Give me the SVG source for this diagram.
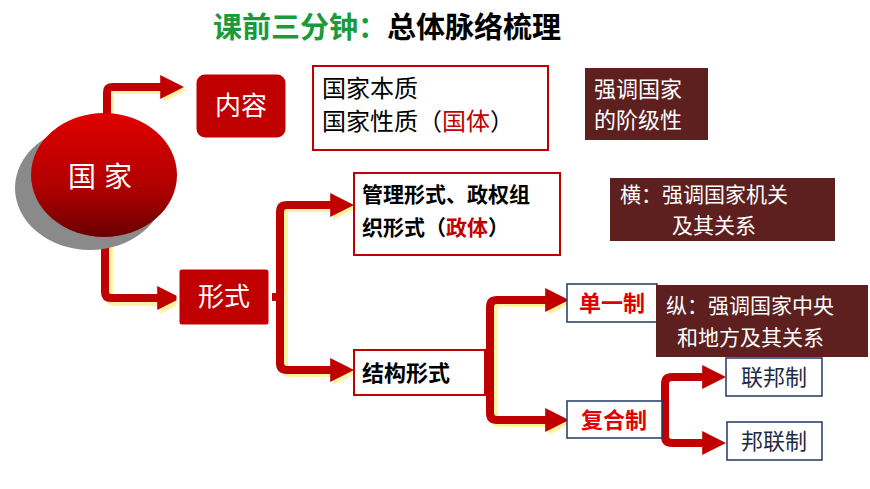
<svg xmlns="http://www.w3.org/2000/svg" width="870" height="489" viewBox="0 0 870 489">
<defs>
<linearGradient id="g" x1="0" y1="0" x2="0" y2="1"><stop offset="0" stop-color="#e00000"/><stop offset="0.6" stop-color="#b00000"/><stop offset="1" stop-color="#6a0000"/></linearGradient>
<marker id="ah" viewBox="0 0 10 10" refX="2" refY="5" markerWidth="3" markerHeight="3.4" orient="auto" markerUnits="strokeWidth"><path d="M0,0 L10,5 L0,10 z" fill="#c00000"/></marker>
<marker id="ahs" viewBox="0 0 10 10" refX="2" refY="5" markerWidth="3" markerHeight="3.4" orient="auto" markerUnits="strokeWidth"><path d="M0,0 L10,5 L0,10 z" fill="#fff3a0"/></marker>
</defs>
<style>
.t{font-family:"Noto Sans CJK SC","Liberation Sans",sans-serif}
.c{fill:none;stroke:#c00000;stroke-width:8;stroke-linejoin:round}
.cs{fill:none;stroke:#fff3a0;stroke-width:8;stroke-linejoin:round}
.rb{fill:#c00000;stroke:#fff;stroke-width:3}
.br{fill:#5e1f1f}
.wb{fill:#fff;stroke:#c00000;stroke-width:2}
.bb{fill:#fff;stroke:#1f3864;stroke-width:1.5}
</style>
<rect width="870" height="489" fill="#fff"/>
<text class="t" x="213" y="38" font-size="29" font-weight="bold" fill="#1a9a3a">课前三分钟：<tspan fill="#000">总体脉络梳理</tspan></text>
<g id="connectors">
<path class="cs" d="M110,122 V93 Q110,90 114,90 H168" marker-end="url(#ahs)"/>
<path class="c" d="M107,120 V92 Q107,87 113,87 H165" marker-end="url(#ah)"/>
<path class="cs" d="M109,240 V296 Q109,302 115,302 H165" marker-end="url(#ahs)"/>
<path class="c" d="M105,238 V292 Q105,298 111,298 H162" marker-end="url(#ah)"/>
<path class="cs" d="M284,297 V214 Q284,208 290,208 H338" marker-end="url(#ahs)"/>
<path class="cs" d="M284,297 V366 Q284,373 290,373 H338" marker-end="url(#ahs)"/>
<path class="c" d="M272,297 H280"/>
<path class="c" d="M280,297 V212 Q280,205 287,205 H335" marker-end="url(#ah)"/>
<path class="c" d="M280,297 V363 Q280,370 287,370 H335" marker-end="url(#ah)"/>
<path class="cs" d="M494,362 V309 Q494,303 500,303 H553" marker-end="url(#ahs)"/>
<path class="cs" d="M494,362 V417 Q494,423 500,423 H553" marker-end="url(#ahs)"/>
<path class="c" d="M486,372 H490"/>
<path class="c" d="M490,372 V307 Q490,300 497,300 H550" marker-end="url(#ah)"/>
<path class="c" d="M490,372 V413 Q490,420 497,420 H550" marker-end="url(#ah)"/>
<path class="c" d="M662,420 H665"/>
<path class="c" d="M665,410 V384 Q665,377 672,377 H707" marker-end="url(#ah)"/>
<path class="c" d="M665,410 V436 Q665,443 672,443 H707" marker-end="url(#ah)"/>
</g>
<g id="guojia">
<ellipse cx="90" cy="188" rx="75" ry="62" fill="#8a8a8a"/>
<ellipse cx="104" cy="175" rx="73" ry="62" fill="url(#g)"/>
<text class="t" x="104" y="187" font-size="28" fill="#fff" text-anchor="middle" letter-spacing="8">国家</text>
</g>
<g id="neirong">
<rect class="rb" x="195" y="73" width="92" height="66" rx="10"/>
<text class="t" x="241" y="115" font-size="26" fill="#fff" text-anchor="middle">内容</text>
</g>
<g id="benzhi">
<rect class="wb" x="313" y="66" width="235" height="84"/>
<text class="t" x="322" y="97" font-size="24">国家本质</text>
<text class="t" x="322" y="130" font-size="24">国家性质（<tspan fill="#c00000">国体</tspan>）</text>
</g>
<g id="jiejixing">
<rect class="br" x="585" y="68" width="123" height="72"/>
<text class="t" x="594" y="97" font-size="22" fill="#fff">强调国家</text>
<text class="t" x="594" y="128" font-size="22" fill="#fff">的阶级性</text>
</g>
<g id="xingshi">
<rect class="rb" x="178" y="268" width="92" height="58" rx="4"/>
<text class="t" x="224" y="306" font-size="26" fill="#fff" text-anchor="middle">形式</text>
</g>
<g id="zhengti">
<rect class="wb" x="354" y="173" width="206" height="82"/>
<text class="t" x="362" y="202" font-size="21" font-weight="bold">管理形式、政权组</text>
<text class="t" x="362" y="235" font-size="21" font-weight="bold">织形式（<tspan fill="#c00000">政体</tspan>）</text>
</g>
<g id="heng">
<rect class="br" x="610" y="178" width="225" height="63"/>
<text class="t" x="620" y="202" font-size="21" fill="#fff">横：强调国家机关</text>
<text class="t" x="672" y="233" font-size="21" fill="#fff">及其关系</text>
</g>
<g id="jiegou">
<rect class="wb" x="354" y="350" width="131" height="45"/>
<text class="t" x="362" y="381" font-size="22" font-weight="bold">结构形式</text>
</g>
<g id="danyi">
<rect class="bb" x="567" y="284" width="90" height="38"/>
<text class="t" x="612" y="311" font-size="22" font-weight="bold" fill="#e00000" text-anchor="middle">单一制</text>
</g>
<g id="zong">
<rect class="br" x="656" y="285" width="212" height="72"/>
<text class="t" x="666" y="313" font-size="21" fill="#fff">纵：强调国家中央</text>
<text class="t" x="677" y="345" font-size="21" fill="#fff">和地方及其关系</text>
</g>
<g id="fuhe">
<rect class="bb" x="567" y="401" width="95" height="37"/>
<text class="t" x="614" y="428" font-size="22" font-weight="bold" fill="#e00000" text-anchor="middle">复合制</text>
</g>
<g id="lianbang">
<rect class="bb" x="726" y="358" width="96" height="38"/>
<text class="t" x="774" y="385" font-size="22" fill="#1f2a44" text-anchor="middle">联邦制</text>
</g>
<g id="banglian">
<rect class="bb" x="727" y="422" width="95" height="38"/>
<text class="t" x="774" y="449" font-size="22" fill="#1f2a44" text-anchor="middle">邦联制</text>
</g>
</svg>
